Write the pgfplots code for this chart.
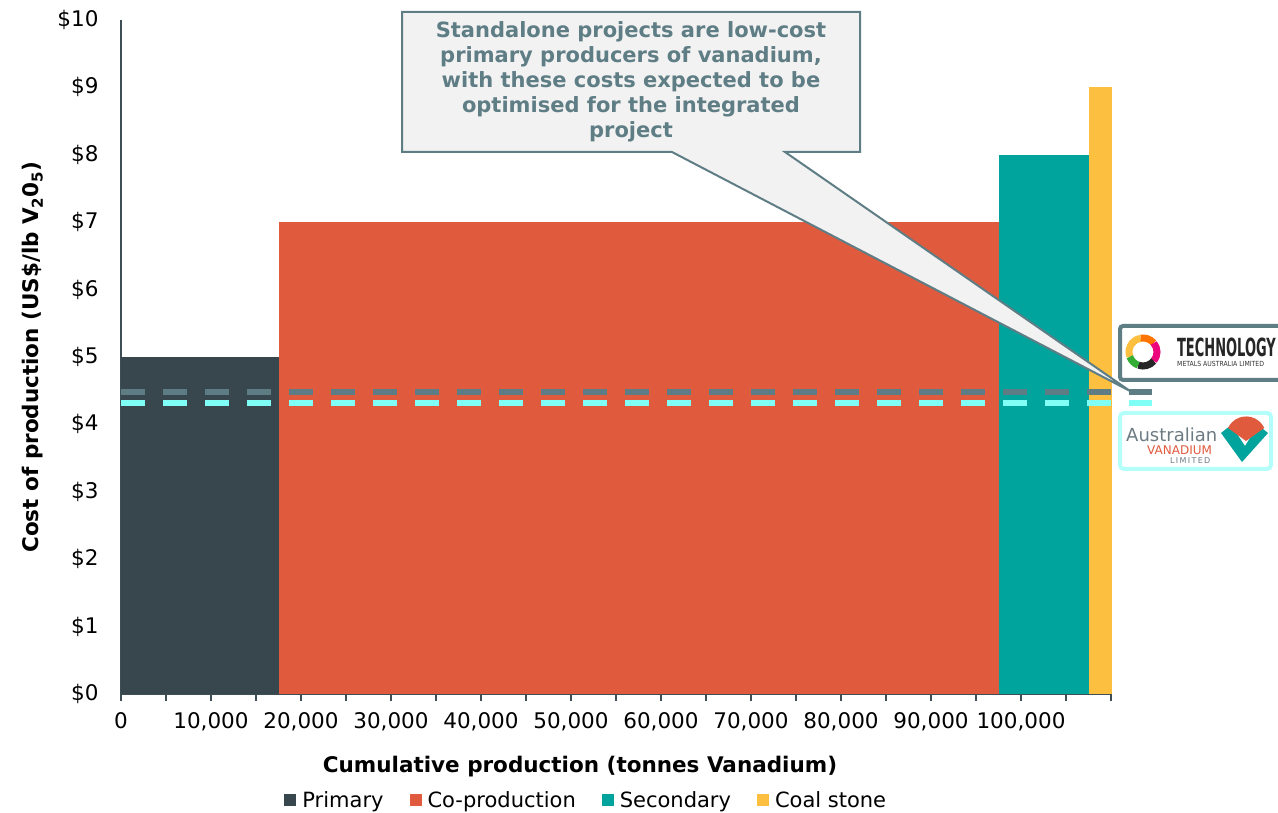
\documentclass[border=0pt]{standalone}
\usepackage{pgfplots}
\pgfplotsset{compat=1.18}
\usepackage{fontspec}
\setmainfont{DejaVu Sans}
\definecolor{primary}{HTML}{37474D}
\definecolor{coprod}{HTML}{E05A3E}
\definecolor{second}{HTML}{00A49D}
\definecolor{coal}{HTML}{FDBF3F}
\definecolor{axisc}{HTML}{3D4F55}
\definecolor{slate}{HTML}{5F7D85}
\definecolor{callfill}{HTML}{F2F2F2}
\definecolor{dashgray}{HTML}{5E7C83}
\definecolor{dashcyan}{HTML}{80FFF6}
\definecolor{avlcyan}{HTML}{B5FFFA}
\definecolor{avlgray}{HTML}{6D7B82}
\begin{document}
\begin{tikzpicture}[x=1pt,y=1pt]
\useasboundingbox (0,0) rectangle (1278,812);
\begin{axis}[
    at={(121pt,118pt)}, anchor=south west,
    scale only axis, width=990pt, height=674pt,
    xmin=0, xmax=110000, ymin=0, ymax=10,
    clip=false,
    axis x line*=bottom, axis y line*=left,
    axis line style={-, draw=axisc, line width=1.8pt},
    xtick={0,10000,20000,30000,40000,50000,60000,70000,80000,90000,100000},
    xticklabels={0,{10,000},{20,000},{30,000},{40,000},{50,000},{60,000},{70,000},{80,000},{90,000},{100,000}},
    minor xtick={5000,15000,25000,35000,45000,55000,65000,75000,85000,95000,105000,110000},
    ytick={0,1,2,3,4,5,6,7,8,9,10},
    yticklabels={\$0,\$1,\$2,\$3,\$4,\$5,\$6,\$7,\$8,\$9,\$10},
    scaled x ticks=false,
    tick align=outside,
    major tick length=7pt, minor tick length=7pt,
    tick style={draw=axisc, line width=1.8pt},
    ytick style={draw=none},
    ticklabel style={font=\fontsize{21.5}{25}\selectfont},
    yticklabel style={xshift=-12pt},
    xticklabel style={yshift=-8pt},
    xlabel={\textbf{Cumulative production (tonnes Vanadium)}},
    ylabel={\textbf{Cost of production (US\$/lb V\textsubscript{2}0\textsubscript{5})}},
    label style={font=\fontsize{21.5}{25}\selectfont},
    xlabel style={at={(axis description cs:0.4636,-0.1083)}, anchor=center},
    ylabel style={at={(axis description cs:-0.0889,0.5)}, anchor=center},
    legend columns=4,
    legend style={at={(axis description cs:0.47,-0.157)}, anchor=center,
        draw=none, fill=none, font=\fontsize{21}{25}\selectfont,
        /tikz/every even column/.append style={column sep=24pt},
        /tikz/every odd column/.append style={column sep=4pt}},
    legend image code/.code={\fill[#1] (0pt,-6pt) rectangle (12pt,6pt);},
]
\addplot[fill=primary, draw=none] coordinates {(0,0) (0,5) (17500,5) (17500,0)} -- cycle;
\addlegendentry{Primary}
\addplot[fill=coprod, draw=none] coordinates {(17500,0) (17500,7) (97500,7) (97500,0)} -- cycle;
\addlegendentry{Co-production}
\addplot[fill=second, draw=none] coordinates {(97500,0) (97500,8) (107500,8) (107500,0)} -- cycle;
\addlegendentry{Secondary}
\addplot[fill=coal, draw=none] coordinates {(107500,0) (107500,9) (110100,9) (110100,0)} -- cycle;
\addlegendentry{Coal stone}
\addplot[dashgray, line width=6pt, dash pattern=on 24pt off 18pt, forget plot] coordinates {(0,4.48) (114600,4.48)};
\addplot[dashcyan, line width=6pt, dash pattern=on 24pt off 18pt, forget plot] coordinates {(0,4.32) (114600,4.32)};
\end{axis}
\begin{scope}[yshift=812pt, yscale=-1]
% callout
\filldraw[fill=callfill, draw=slate, line width=2pt]
  (402,12) -- (860,12) -- (860,152) -- (785,152) -- (1130,391) -- (672,152) -- (402,152) -- cycle;
\node[text=slate, align=center, font=\bfseries\fontsize{21}{25}\selectfont] at (631,82)
  {Standalone projects are low-cost\\primary producers of vanadium,\\with these costs expected to be\\optimised for the integrated\\project};
% Technology Metals logo
\draw[draw=slate, line width=4pt, fill=white, rounded corners=3pt] (1120,326) rectangle (1290,380);
\begin{scope}[line width=7pt]
\draw[coal] (1143,352) ++(-200:14) arc (-200:-100:14);
\draw[orange!90!red] (1143,352) ++(-100:14) arc (-100:-40:14);
\draw[magenta!85!red] (1143,352) ++(-40:14) arc (-40:40:14);
\draw[black!85] (1143,352) ++(40:14) arc (40:110:14);
\draw[green!60!black!80] (1143,352) ++(110:14) arc (110:160:14);
\end{scope}
\node[anchor=west, xscale=0.52, font=\bfseries\fontsize{25}{25}\selectfont, text=black!85, inner sep=0] at (1177,347) {TECHNOLOGY};
\node[anchor=west, xscale=0.88, font=\fontsize{7}{8}\selectfont, text=black!80, inner sep=0] at (1177,364) {METALS AUSTRALIA LIMITED};
% Australian Vanadium logo
\draw[draw=avlcyan, line width=4pt, fill=white, rounded corners=4pt] (1120,413) rectangle (1271,469);
\node[anchor=west, font=\fontsize{18}{20}\selectfont, text=avlgray, inner sep=0] at (1126,435) {Australian};
\node[anchor=west, font=\fontsize{12}{12}\selectfont, text=coprod, inner sep=0] at (1147,450) {VANADIUM};
\node[anchor=west, font=\fontsize{8}{8}\selectfont, text=avlgray, inner sep=0] at (1170,461) {L\,I\,M\,I\,T\,E\,D};
\fill[second] (1221,433) -- (1231,425) -- (1245,446) -- (1258,425) -- (1268,433) -- (1242,462) -- cycle;
\fill[coprod] (1246,441) -- (1228,428) arc (205:335:20) -- cycle;
\end{scope}
\end{tikzpicture}
\end{document}
